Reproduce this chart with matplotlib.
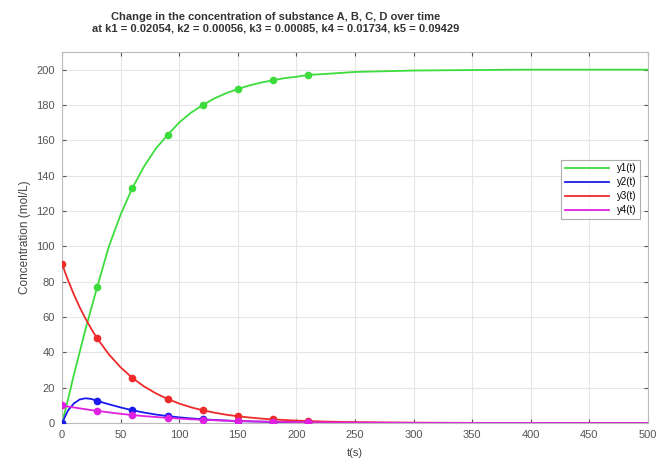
import numpy as np
from matplotlib import pyplot as plt

plt.rcParams['font.family'] = ['Liberation Sans', 'DejaVu Sans']

# values
t = [0, 5, 10, 15, 20, 25, 30, 40, 50, 60, 70, 80, 90, 100, 110, 120, 130, 140,
     150, 160, 170, 180, 190, 200, 210, 225, 250, 275, 300, 350, 400, 450, 500]
y1 = [0, 13, 27, 40, 53, 65, 77, 100, 118, 133, 145.2, 155.3, 163, 170.1, 175.6,
      180, 183.7, 186.7, 189, 191.1, 192.7, 194, 195.2, 196, 197, 197.6, 198.7,
      199.1, 199.5, 199.8, 200, 200, 200]
y2 = [0, 7, 11, 13.3, 14, 13.6, 12.5, 10.6, 8.8, 7.2, 5.9, 4.8, 3.9, 3.2, 2.6,
      2.1, 1.7, 1.4, 1.1, 0.9, 0.75, 0.6, 0.5, 0.4, 0.33, 0.25, 0.15, 0.09, 0.05,
      0.02, 0, 0, 0]
y3 = [90, 81, 72.9, 65.6, 59.1, 53.2, 47.9, 38.8, 31.5, 25.5, 20.7, 16.8, 13.6,
      11.0, 8.9, 7.2, 5.85, 4.7, 3.8, 3.1, 2.5, 2.0, 1.7, 1.35, 1.1, 0.8, 0.47,
      0.28, 0.17, 0.06, 0.02, 0, 0]
y4 = [10, 9.3, 8.8, 8.3, 7.8, 7.3, 6.9, 6.0, 5.2, 4.5, 3.9, 3.4, 2.9, 2.5, 2.1,
      1.8, 1.55, 1.3, 1.1, 0.95, 0.8, 0.7, 0.6, 0.5, 0.4, 0.32, 0.2, 0.14, 0.1,
      0.04, 0.02, 0, 0]

# measured points
tm = [0, 30, 60, 90, 120, 150, 180, 210]
y1m = [0, 77, 133, 163, 180, 189, 194, 197]
y2m = [0, 12.5, 7.2, 3.9, 2.1, 1.1, 0.6, 0.33]
y3m = [90, 47.9, 25.5, 13.6, 7.2, 3.8, 2.0, 1.1]
y4m = [10, 6.9, 4.5, 2.9, 1.8, 1.1, 0.7, 0.4]

series = [
    ('y1(t)', y1, y1m, '#3ddc3d'),
    ('y2(t)', y2, y2m, '#1a1aee'),
    ('y3(t)', y3, y3m, '#ee2a2a'),
    ('y4(t)', y4, y4m, '#e020e0'),
]

fig = plt.figure(figsize=(6.67, 4.63), dpi=100)
ax = fig.add_axes([0.093, 0.0864, 0.8785, 0.8013])

for name, yl, ym, c in series:
    ax.plot(t, yl, '-', color=c, lw=1.3, label=name)
for name, yl, ym, c in series:
    ax.plot(tm, ym, 'o', color=c, ms=4.5, zorder=3)

ax.set_xlim(0, 500)
ax.set_ylim(0, 210)
ax.set_xticks(np.arange(0, 501, 50))
ax.set_yticks(np.arange(0, 201, 20))
ax.grid(True, color='#e6e6e6', lw=0.8)
ax.set_axisbelow(True)
ax.tick_params(direction='in', top=True, right=True, labelsize=8,
               colors='#555555', length=3, pad=5)
for s in ax.spines.values():
    s.set_color('#bbbbbb')

ax.set_xlabel('t(s)', fontsize=8, color='#444444', labelpad=6)
ax.set_ylabel('Concentration (mol/L)', fontsize=8.5, color='#444444')
ax.set_title('Change in the concentration of substance A, B, C, D over time\n'
             'at k1 = 0.02054, k2 = 0.00056, k3 = 0.00085, k4 = 0.01734, k5 = 0.09429',
             fontsize=8, fontweight='bold', color='#333333', pad=15, x=0.365)

leg = ax.legend(loc='center right', bbox_to_anchor=(0.995, 0.63), fontsize=7,
                fancybox=False, edgecolor='#999999', handlelength=4.5,
                borderpad=0.4, labelspacing=0.4)
leg.get_frame().set_linewidth(0.8)

fig.savefig('out.png', dpi=100)
